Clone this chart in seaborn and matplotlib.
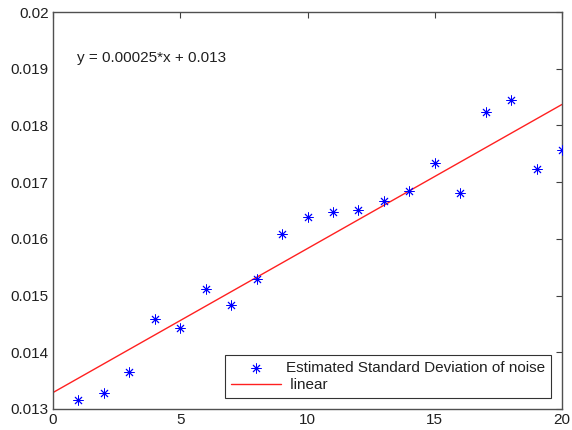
import matplotlib
matplotlib.use("Agg")
import matplotlib.pyplot as plt
import seaborn as sns
import pandas as pd
from matplotlib.ticker import FuncFormatter

# data
x_vals = [1, 2, 3, 4, 5, 6, 7, 8, 9, 10, 11, 12, 13, 14, 15, 16, 17, 18, 19, 20]
std_noise = [0.01316, 0.01329, 0.01366, 0.01459, 0.01443, 0.01512, 0.01484, 0.01530,
             0.01609, 0.01638, 0.01648, 0.01651, 0.01666, 0.01685, 0.01733, 0.01680,
             0.01823, 0.01844, 0.01723, 0.01756]
fit_x = [0, 20]
fit_y = [0.01329, 0.01837]
x_ticks = [0, 5, 10, 15, 20]
y_ticks = [0.013, 0.014, 0.015, 0.016, 0.017, 0.018, 0.019, 0.02]
equation = "y = 0.00025*x + 0.013"
series_label = "Estimated Standard Deviation of noise"
fit_label = " linear"

sns.set_theme(style="white")
plt.rcParams['font.family'] = ['Liberation Sans', 'DejaVu Sans']
plt.rcParams['xtick.direction'] = 'in'
plt.rcParams['ytick.direction'] = 'in'

df_pts = pd.DataFrame({"x": x_vals, "y": std_noise})
df_fit = pd.DataFrame({"x": fit_x, "y": fit_y})

fig = plt.figure(figsize=(5.72, 4.30), dpi=100)
ax = fig.add_axes([53/572, 21/430, 509/572, 397/430])

sns.scatterplot(data=df_pts, x="x", y="y", ax=ax, marker=(8, 2, 0), s=45,
                color="#0000ff", edgecolor="#0000ff", linewidth=0.65,
                label=series_label, zorder=3)
sns.lineplot(data=df_fit, x="x", y="y", ax=ax, color="#ff2020", linewidth=1.0,
             label=fit_label, zorder=2)

ax.set_xlim(0, 20)
ax.set_ylim(0.013, 0.02)
ax.set_xticks(x_ticks)
ax.set_yticks(y_ticks)
ax.yaxis.set_major_formatter(FuncFormatter(lambda v, p: f"{v:g}"))
ax.set_xlabel("")
ax.set_ylabel("")
ax.tick_params(axis='both', which='both', direction='in', length=4, width=0.8,
               colors='#404040', labelcolor='#202020', labelsize=11,
               top=True, right=True, pad=3)
for s in ax.spines.values():
    s.set_color('#505050')
    s.set_linewidth(1.0)

ax.text(0.94, 0.01919, equation, fontsize=11, color='#202020', ha='left', va='center')

leg = ax.legend(loc='lower right', bbox_to_anchor=((551 - 53) / 509, (409 - 398) / 397),
                fontsize=11, frameon=True, fancybox=False, shadow=False,
                borderpad=0.4, handlelength=3.3, handletextpad=0.3,
                labelspacing=0.2, borderaxespad=0)
leg.get_frame().set_edgecolor('black')
leg.get_frame().set_linewidth(0.8)
for t in leg.get_texts():
    t.set_color('#202020')

fig.savefig("out.png", dpi=100, facecolor='white')
